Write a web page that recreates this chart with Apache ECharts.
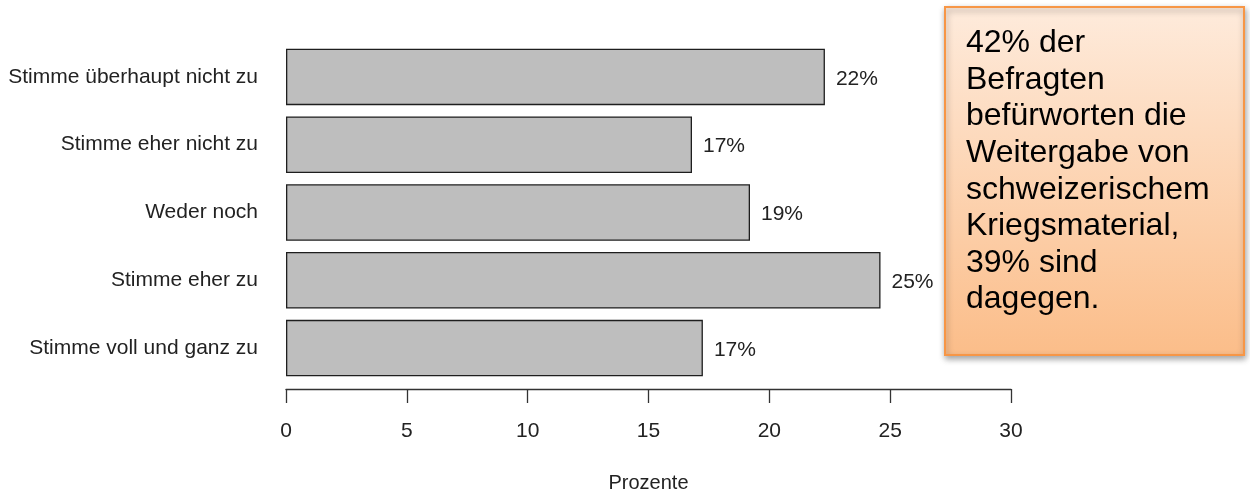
<!DOCTYPE html>
<html>
<head>
<meta charset="utf-8">
<title>Weitergabe von Kriegsmaterial</title>
<script src="https://cdn.jsdelivr.net/npm/echarts@6/dist/echarts.min.js"></script>
<style>
  html, body { margin: 0; padding: 0; background: #ffffff; }
  #chart { width: 1250px; height: 491px; }
</style>
</head>
<body>
<div id="chart"></div>
<script>
// Answer categories, top to bottom
const categories = [
  'Stimme überhaupt nicht zu',
  'Stimme eher nicht zu',
  'Weder noch',
  'Stimme eher zu',
  'Stimme voll und ganz zu'
];
// Share of respondents in percent
const values = [22.3, 16.8, 19.2, 24.6, 17.25];
// Percent axis ticks
const xTicks = [0, 5, 10, 15, 20, 25, 30];
const axisName = 'Prozente';
const noteLines = [
  '42% der',
  'Befragten',
  'befürworten die',
  'Weitergabe von',
  'schweizerischem',
  'Kriegsmaterial,',
  '39% sind',
  'dagegen.'
];

const font = '"Liberation Sans", Arial, sans-serif';
const ink = '#222222';

const chart = echarts.init(document.getElementById('chart'), null, { renderer: 'canvas' });

chart.setOption({
  backgroundColor: '#ffffff',
  animation: false,
  grid: {
    left: 286, right: 239, top: 43, bottom: 109,
    containLabel: false,
    outerBoundsMode: 'none'
  },
  xAxis: {
    type: 'value',
    min: xTicks[0],
    max: xTicks[xTicks.length - 1],
    interval: xTicks[1] - xTicks[0],
    offset: 7,
    name: axisName,
    nameLocation: 'middle',
    nameGap: 84,
    nameTextStyle: { fontFamily: font, fontSize: 20, color: ink },
    axisLine: { show: true, lineStyle: { color: '#333333', width: 1.3 } },
    axisTick: { show: true, length: 14, lineStyle: { color: '#333333', width: 1.3 } },
    axisLabel: { margin: 32, fontFamily: font, fontSize: 21, color: ink },
    splitLine: { show: false }
  },
  yAxis: {
    type: 'category',
    data: categories,
    inverse: true,
    axisLine: { show: false },
    axisTick: { show: false },
    axisLabel: {
      margin: 28, fontFamily: font, fontSize: 21, color: ink,
      padding: [5, 0, 0, 0]
    }
  },
  series: [{
    type: 'bar',
    data: values,
    barCategoryGap: '16.7%',
    itemStyle: { color: '#BEBEBE', borderColor: '#1e1e1e', borderWidth: 1.3 },
    label: {
      show: true,
      position: 'right',
      distance: 11,
      offset: [0, 2],
      fontFamily: font,
      fontSize: 21,
      color: ink,
      formatter: p => Math.round(p.value) + '%'
    }
  }],
  graphic: [
    {
      type: 'rect',
      left: 944,
      top: 6,
      shape: { width: 299, height: 348 },
      style: {
        fill: new echarts.graphic.LinearGradient(0, 0, 0, 1, [
          { offset: 0, color: '#FEEBDC' },
          { offset: 1, color: '#FBBD89' }
        ]),
        stroke: '#F79646',
        lineWidth: 2,
        shadowBlur: 6,
        shadowOffsetX: 1,
        shadowOffsetY: 3,
        shadowColor: 'rgba(0,0,0,0.35)'
      },
      z: 10
    },
    {
      type: 'text',
      left: 966,
      top: 25,
      style: {
        text: noteLines.join('\n'),
        font: '32px ' + font,
        lineHeight: 36.6,
        fill: '#000000'
      },
      z: 11
    }
  ]
});
</script>
</body>
</html>
